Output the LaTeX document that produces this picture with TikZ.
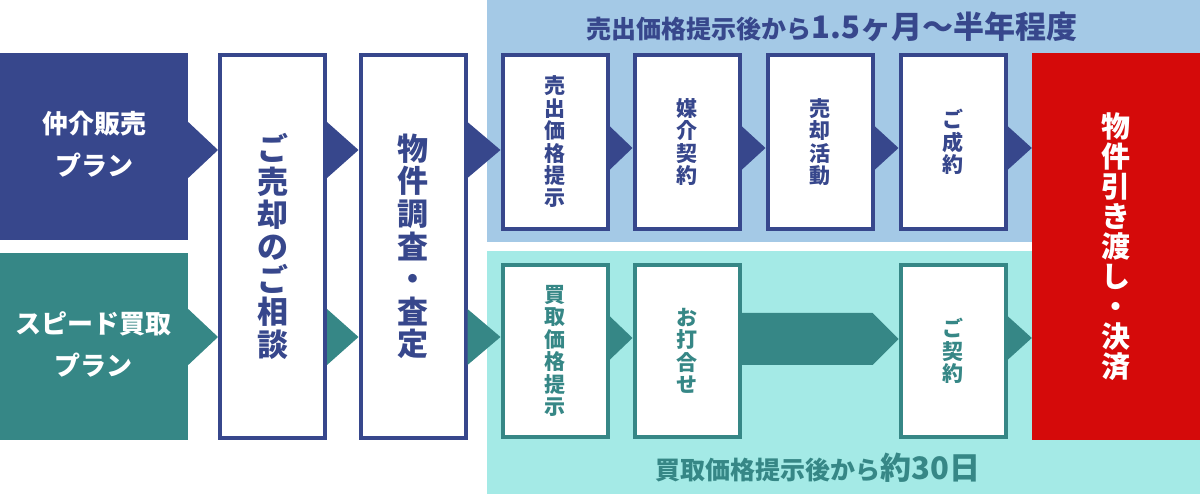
\documentclass[tikz,border=0pt]{standalone}
\usepackage{fontspec}
\setmainfont{Noto Sans CJK JP}
\usepackage{tikz}
\usetikzlibrary{calc}
\definecolor{sellc}{RGB}{55,71,140}
\definecolor{buyc}{RGB}{54,135,134}
\definecolor{sellbg}{RGB}{164,201,230}
\definecolor{buybg}{RGB}{164,234,230}
\definecolor{handc}{RGB}{213,10,10}
\newcommand{\chev}[5]{\fill[#5] (#1.east |- 0,#3-#4) -- (#2.west |- 0,#3) -- (#1.east |- 0,#3+#4) -- cycle;}

\begin{document}
\begin{tikzpicture}[x=1pt,y=-1pt,
  panel/.style={fill=#1,inner sep=0pt,minimum width=713pt,anchor=north west},
  plan/.style={fill=#1,text=white,inner sep=0pt,minimum width=188pt,minimum height=187pt,align=center,font=\fontsize{26}{42}\selectfont\bfseries},
  stepbig/.style={draw=sellc,line width=4pt,fill=white,text=sellc,inner sep=0pt,minimum width=105pt,minimum height=383pt,align=center,font=\fontsize{31}{32.6}\selectfont\bfseries},
  stepsmall/.style={draw=#1,line width=4pt,fill=white,text=#1,inner sep=0pt,minimum width=105pt,minimum height=174pt,align=center,font=\fontsize{21}{22.4}\selectfont\bfseries}]
  \useasboundingbox (0,0) rectangle (1200,494);
  \node[panel=sellbg,minimum height=242pt] (sellpanel) at (487,0) {};
  \node[panel=buybg,minimum height=243pt] (buypanel) at (487,251) {};
  \node[plan=sellc,text depth=6pt] (chukai) at (94,146.5) {仲介販売\\プラン};
  \node[plan=buyc,text depth=6pt] (speed) at (94,346.5) {スピード買取\\プラン};
  \node[stepbig] (soudan) at (272.5,246.5) {ご\\売\\却\\の\\ご\\相\\談};
  \node[stepbig] (chousa) at (413,246.5) {物\\件\\調\\査\\・\\査\\定};
  \node[stepsmall=sellc] (sprice) at (555,142) {売\\出\\価\\格\\提\\示};
  \node[stepsmall=sellc] (baikai) at (687,142) {媒\\介\\契\\約};
  \node[stepsmall=sellc] (katsudo) at (820,142) {売\\却\\活\\動};
  \node[stepsmall=sellc] (seiyaku) at (953,142) {ご\\成\\約};
  \node[stepsmall=buyc,minimum height=172pt] (bprice) at (555,351) {買\\取\\価\\格\\提\\示};
  \node[stepsmall=buyc,minimum height=172pt] (meet) at (687,351) {お\\打\\合\\せ};
  \node[stepsmall=buyc,minimum height=172pt] (keiyaku) at (953,351) {ご\\契\\約};
  \node[fill=handc,text=white,inner sep=0pt,minimum width=168pt,minimum height=387pt,align=center,font=\fontsize{29}{30}\selectfont\bfseries] (hand) at (1116,246.5) {物\\件\\引\\き\\渡\\し\\・\\決\\済};
  \node[anchor=base,text=sellc,font=\bfseries] (selllabel) at (832,39) {\fontsize{25}{28}\selectfont 売出価格提示後から\fontsize{31}{34}\selectfont 1.5ヶ月～半年程度};
  \node[anchor=base,text=buyc,font=\bfseries] (buylabel) at (818,479) {\fontsize{25}{28}\selectfont 買取価格提示後から\fontsize{31}{34}\selectfont 約30日};
  \chev{chukai}{soudan}{150}{28}{sellc}
  \chev{speed}{soudan}{337}{28}{buyc}
  \chev{soudan}{chousa}{150}{28}{sellc}
  \chev{soudan}{chousa}{337}{28}{buyc}
  \chev{chousa}{sprice}{150}{28}{sellc}
  \chev{chousa}{bprice}{337}{28}{buyc}
  \chev{sprice}{baikai}{148}{22}{sellc}
  \chev{baikai}{katsudo}{148}{22}{sellc}
  \chev{katsudo}{seiyaku}{148}{22}{sellc}
  \chev{seiyaku}{hand}{148}{22}{sellc}
  \chev{bprice}{meet}{338}{22}{buyc}
  \chev{keiyaku}{hand}{338}{22}{buyc}
  \fill[buyc] (meet.east |- 0,313) -- ($(keiyaku.west |- 0,313)+(-26,0)$) -- (keiyaku.west |- 0,339) -- ($(keiyaku.west |- 0,365)+(-26,0)$) -- (meet.east |- 0,365) -- cycle;
\end{tikzpicture}
\end{document}
